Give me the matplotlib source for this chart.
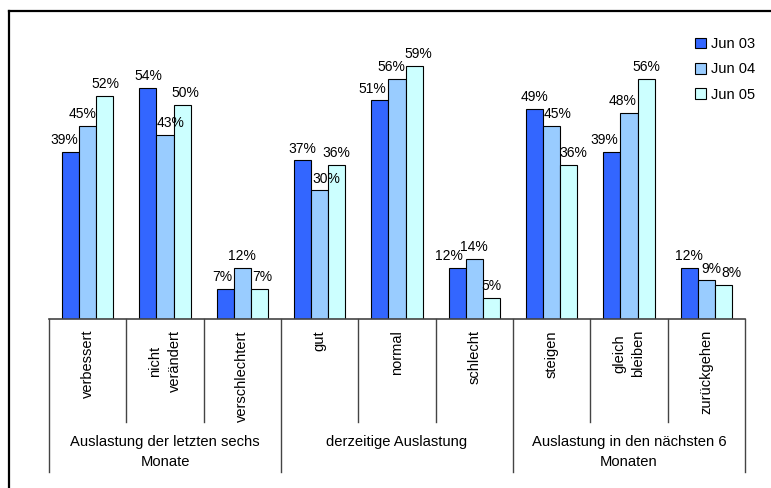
import numpy as np
import matplotlib.pyplot as plt
from matplotlib.lines import Line2D
from matplotlib.patches import Patch

plt.rcParams['font.family'] = ['Liberation Sans', 'DejaVu Sans']

categories = ['verbessert', 'nicht\nverändert', 'verschlechtert',
              'gut', 'normal', 'schlecht',
              'steigen', 'gleich\nbleiben', 'zurückgehen']
groups = ['Auslastung der letzten sechs\nMonate',
          'derzeitige Auslastung',
          'Auslastung in den nächsten 6\nMonaten']
series = ['Jun 03', 'Jun 04', 'Jun 05']
jun03 = [39, 54, 7, 37, 51, 12, 49, 39, 12]
jun04 = [45, 43, 12, 30, 56, 14, 45, 48, 9]
jun05 = [52, 50, 7, 36, 59, 5, 36, 56, 8]
colors = ['#3366FF', '#99CCFF', '#CCFFFF']

# horizontal nudges (pixels) so neighbouring value labels don't collide
label_dx = [
    [-6, 0, -3, 0, -8, -8, 0, -8, 0],
    [-5, 6, 0, 7, -6, 0, 6, -6, 5],
    [1, 3, 3, 0, 4, 0, 5, 0, 8],
]

W, H = 771, 488
fig = plt.figure(figsize=(W / 100, H / 100), dpi=100)
# plot area in pixels: x 49..745, baseline at y=319
ax_h = 300
ax = fig.add_axes([49 / W, (H - 319) / H, 696 / W, ax_h / H])
ax.set_xlim(-0.5, len(categories) - 0.5)
ax.set_ylim(0, 70)
ax.axis('off')

x = np.arange(len(categories))
bw = 0.22
for k, vals in enumerate([jun03, jun04, jun05]):
    pos = x + (k - 1) * bw
    ax.bar(pos, vals, width=bw, color=colors[k], edgecolor='black',
           linewidth=0.8, label=series[k], zorder=2)
    for px, v, dx in zip(pos, vals, label_dx[k]):
        ax.annotate(f'{v}%', (px, v), xytext=(dx * 0.72, 3.5),
                    textcoords='offset points',
                    ha='center', va='bottom', fontsize=10)

# category axis: baseline, separators and labels
trans = ax.get_xaxis_transform()
def to_ax(px):
    return -px / ax_h

ax.plot([-0.5, len(categories) - 0.5], [0, 0], color='#444444', lw=1.2,
        transform=trans, clip_on=False, zorder=3)
for b in range(len(categories) + 1):
    depth = 153 if b % 3 == 0 else 103
    ax.plot([b - 0.5, b - 0.5], [0, to_ax(depth)], color='#444444', lw=1.0,
            transform=trans, clip_on=False)
for i, lab in enumerate(categories):
    ax.text(i, to_ax(11), lab, rotation=90, ha='center', va='top',
            fontsize=10.5, transform=trans, multialignment='center',
            linespacing=1.45)
for g, lab in enumerate(groups):
    ax.text(3 * g + 1, to_ax(116), lab, ha='center', va='top', fontsize=10.6,
            transform=trans, linespacing=1.55)

handles = [Patch(facecolor=c, edgecolor='black', linewidth=0.8) for c in colors]
fig.legend(handles, series, loc='upper left', bbox_to_anchor=(695 / W, 1 - 37 / H),
           frameon=False, fontsize=10.5, handlelength=0.75, handleheight=0.75,
           handletextpad=0.35, labelspacing=0.78, borderaxespad=0, borderpad=0)

# outer frame (left and top edges)
fig.add_artist(Line2D([9 / W, 9 / W], [0, 1 - 11 / H], color='black', lw=1.6,
                      transform=fig.transFigure))
fig.add_artist(Line2D([9 / W, 1], [1 - 11 / H, 1 - 11 / H], color='black', lw=1.6,
                      transform=fig.transFigure))

fig.savefig('out.png', dpi=100)
